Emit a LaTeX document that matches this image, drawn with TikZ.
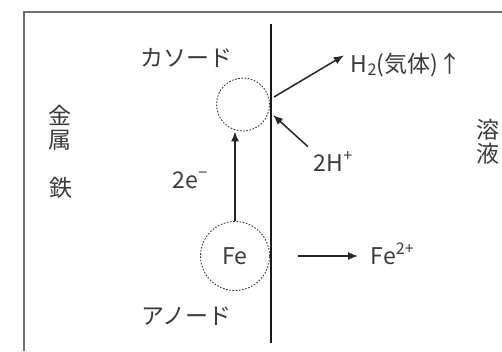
\documentclass[tikz,border=0pt]{standalone}
\usepackage{fontspec}
\setmainfont{Noto Sans CJK JP}
\usetikzlibrary{arrows.meta}
\definecolor{inkgray}{HTML}{3A3A3A}
\definecolor{framegray}{HTML}{707070}

\begin{document}
\begin{tikzpicture}[
  x=1pt,y=-1pt,line width=1.5pt,
  every node/.style={inner sep=0pt,text=inkgray,font=\fontsize{23}{24}\selectfont},
  site/.style={circle,draw=inkgray,line width=0.9pt,dash pattern=on 1.6pt off 1.6pt},
  arr/.style={-{Latex[length=10pt,width=8pt]},draw=black!85},
  vlabel/.style={align=center}
]
  \useasboundingbox (0,0) rectangle (502,351);
  % only the top and left edges of the frame fall inside the picture
  \draw[framegray,line width=2pt] (24,351) -- (24,12) -- (502,12);

  % metal surface
  \coordinate (etop) at (271,24);
  \coordinate (ebot) at (271,343);
  \draw[black!90,line width=2.6pt] (etop) -- (ebot);

  \node[site,minimum size=53pt] (cathode) at (243,104.5) {};
  \node[site,minimum size=69pt] (anode) at (235,256) {Fe};

  \node (cathlabel) at (186,58) {カソード};
  \node (anodelabel) at (186.5,316.5) {アノード};
  \node[vlabel] (metal) at (60,127.5) {金\\属};
  \node (iron) at (60.5,187.5) {鉄};
  \node[vlabel] (solution) at (488,142) {溶\\液};

  \node[anchor=base west] (elec) at (172,188) {2e\textsuperscript{−}};
  \node[anchor=base west] (gas) at (350,72) {H\textsubscript{2}(気体)↑};
  \node[anchor=base west] (proton) at (313,171) {2H\textsuperscript{+}};
  \node[anchor=base west] (ion) at (370,264) {Fe\textsuperscript{2+}};

  \coordinate (h2out) at (274,97);
  \coordinate (hin) at (273,115);

  \draw[arr] (anode.north) -- (anode.north |- cathode.south);
  \draw[arr,shorten >=7pt] (h2out) -- (gas.north west);
  \draw[arr,shorten <=7pt] (proton.north west) -- (hin);
  \draw[arr,shorten <=28pt,shorten >=12pt] (anode.east) -- (anode.east -| ion.west);
\end{tikzpicture}
\end{document}
